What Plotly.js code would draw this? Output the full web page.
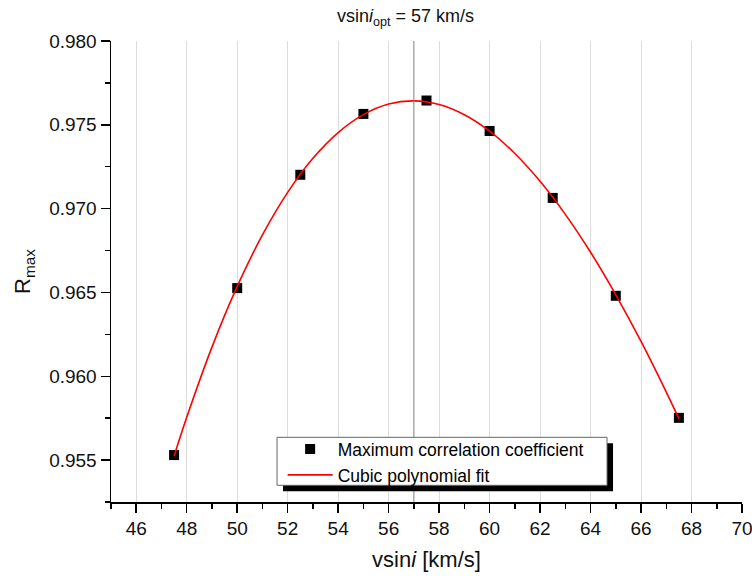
<!DOCTYPE html>
<html>
<head>
<meta charset="utf-8">
<script src="https://cdn.plot.ly/plotly-3.0.1.min.js"></script>
<style>html,body{margin:0;padding:0;background:#fff;}#chart{width:752px;height:576px;}</style>
</head>
<body>
<div id="chart"></div>
<script>
// Measured points
const vsini = [47.5, 50, 52.5, 55, 57.5, 60, 62.5, 65, 67.5];
const rmax = [0.95530, 0.96526, 0.97202, 0.97565, 0.97645, 0.97463, 0.97064, 0.96480, 0.95752];
// Cubic polynomial fit curve
const fitX = [47.5, 48, 49, 50, 51, 52, 53, 54, 55, 56, 57, 58, 59, 60, 61, 62, 63, 64, 65, 66, 67, 67.5];
const fitY = [0.95524, 0.95755, 0.96174, 0.96536, 0.96843, 0.97097, 0.97300, 0.97454, 0.97561, 0.97624, 0.97643,
              0.97621, 0.97560, 0.97462, 0.97329, 0.97163, 0.96966, 0.96740, 0.96486, 0.96208, 0.95906, 0.95747];
const vsiniOpt = 57;
const seriesNames = ["Maximum correlation coefficient", "Cubic polynomial fit"];

const FONT = "Arial, 'Liberation Sans', sans-serif";

const traces = [
  {
    x: vsini, y: rmax, type: "scatter", mode: "markers", name: seriesNames[0],
    marker: {symbol: "square", size: 10, color: "#000", line: {width: 0}}
  },
  {
    x: fitX, y: fitY, type: "scatter", mode: "lines", name: seriesNames[1],
    line: {color: "#ff0000", width: 1.6, shape: "spline"}
  }
];

const layout = {
  width: 752, height: 576,
  margin: {l: 111, r: 10, t: 41, b: 74},
  paper_bgcolor: "#fff", plot_bgcolor: "#fff",
  font: {family: FONT, color: "#000", size: 18},
  showlegend: true,
  legend: {
    x: 0.272, y: 0.1535, xanchor: "left", yanchor: "top",
    bgcolor: "rgba(0,0,0,0)", borderwidth: 0,
    itemwidth: 45,
    font: {family: FONT, size: 17.5, color: "#000"},
    tracegroupgap: 0
  },
  xaxis: {
    range: [45, 70], tick0: 46, dtick: 2,
    showline: true, linecolor: "#000", linewidth: 1.5,
    ticks: "outside", ticklen: 9, tickwidth: 1.5, tickcolor: "#000",
    minor: {dtick: 1, ticks: "outside", ticklen: 5, tickwidth: 1.5, tickcolor: "#000", showgrid: false},
    showgrid: true, gridcolor: "#dcdcdc", gridwidth: 1,
    zeroline: false,
    ticklabeloverflow: "allow",
    tickfont: {family: FONT, size: 19, color: "#111"},
    title: {text: "vsin<i>i</i> [km/s]", font: {family: FONT, size: 22, color: "#111"}, standoff: 13}
  },
  yaxis: {
    range: [0.9525, 0.980], tick0: 0.955, dtick: 0.005, tickformat: ".3f",
    showline: true, linecolor: "#000", linewidth: 1.5,
    ticks: "outside", ticklen: 9, tickwidth: 1.5, tickcolor: "#000",
    minor: {dtick: 0.0025, ticks: "outside", ticklen: 5, tickwidth: 1.5, tickcolor: "#000", showgrid: false},
    showgrid: false, zeroline: false,
    tickfont: {family: FONT, size: 19, color: "#111"},
    title: {text: "R<sub>max</sub>", font: {family: FONT, size: 22, color: "#111"}, standoff: 12}
  },
  shapes: [
    {type: "line", xref: "x", yref: "paper", x0: vsiniOpt, x1: vsiniOpt, y0: 0, y1: 1,
     line: {color: "#808080", width: 1}, layer: "above"},
    {type: "rect", xref: "paper", yref: "paper", x0: 0.2726, x1: 0.7956, y0: 0.0232, y1: 0.1273,
     fillcolor: "#000", line: {width: 0}, layer: "above"},
    {type: "rect", xref: "paper", yref: "paper", x0: 0.2631, x1: 0.7861, y0: 0.0362, y1: 0.1403,
     fillcolor: "#fff", line: {color: "#666", width: 1}, layer: "above"}
  ],
  annotations: [
    {xref: "x", yref: "paper", x: vsiniOpt, y: 1, xanchor: "center", yanchor: "bottom", yshift: 10, xshift: -8,
     showarrow: false, text: "vsin<i>i</i><sub>opt</sub> = " + vsiniOpt + " km/s",
     font: {family: FONT, size: 18, color: "#111"}}
  ]
};

Plotly.newPlot("chart", traces, layout, {displayModeBar: false, staticPlot: true});
</script>
</body>
</html>
